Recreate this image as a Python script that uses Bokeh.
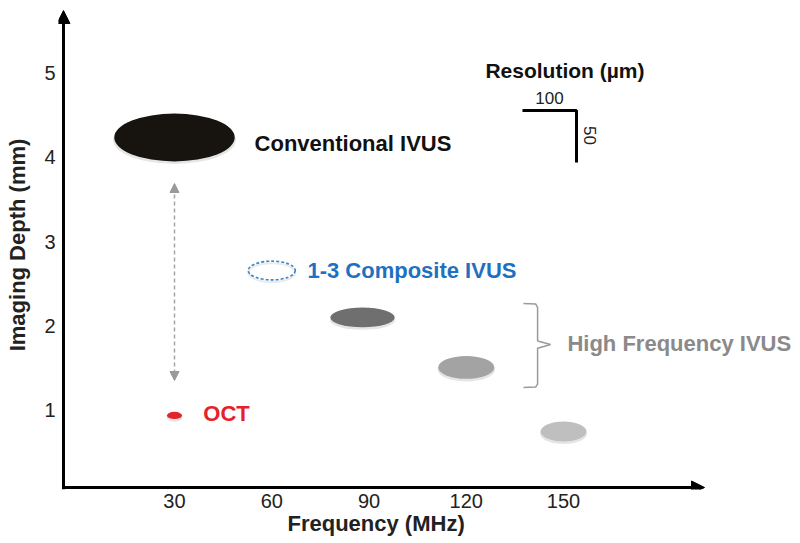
import math
from bokeh.plotting import figure
from bokeh.models import Range1d, FixedTicker, Arrow, NormalHead, Title
from bokeh.core.properties import value
from bokeh.embed import file_html
from bokeh.resources import INLINE

# ---------------- data ----------------
tick_freqs = [30, 60, 90, 120, 150]
tick_depths = [1, 2, 3, 4, 5]

names = ["Conventional IVUS", "OCT", "1-3 Composite IVUS", "HF IVUS 90", "HF IVUS 120", "HF IVUS 150"]
freq_mhz = [30, 30, 60, 88, 120, 150]
depth_mm = [4.235, 0.937, 2.657, 2.10, 1.507, 0.747]
lateral_um = [223, 28, 87, 119, 104, 85]   # ellipse width  (lateral resolution)
axial_um = [46, 7, 18, 19, 22, 19]         # ellipse height (axial resolution)
fill_colors = ["#17140f", "#e5232a", None, "#6f6f6f", "#a3a3a3", "#bfbfbf"]

label_texts = ["Conventional IVUS", "OCT", "1-3 Composite IVUS", "High Frequency IVUS"]
label_x = [54.7, 38.9, 71.0, 151.2]
label_y = [4.164, 0.961, 2.657, 1.791]
label_colors = ["#111111", "#e8202a", "#1f70c1", "#8a8a8a"]

scale_lateral_um = 100
scale_axial_um = 50

# ---------------- layout constants ----------------
LAT_TO_X = 0.1666    # MHz units per um (scale bar: 100 um)
AX_TO_Y = 0.01234    # mm units per um (scale bar: 50 um)
FONT = value("Liberation Sans")

p = figure(width=792, height=541, output_backend="svg", toolbar_location=None,
           x_range=Range1d(-5.78, 220.63), y_range=Range1d(0.059, 5.860),
           min_border_left=58, min_border_right=0, min_border_top=0, min_border_bottom=52)
p.grid.visible = False
p.outline_line_color = None

for ax in (p.xaxis, p.yaxis):
    ax.axis_line_color = None
    ax.major_tick_line_color = None
    ax.minor_tick_line_color = None
    ax.major_tick_out = 0
    ax.major_tick_in = 0
    ax.major_label_text_font = "Liberation Sans"
    ax.major_label_text_font_size = "20px"
    ax.major_label_text_color = "#222222"
p.xaxis.ticker = FixedTicker(ticks=tick_freqs)
p.yaxis.ticker = FixedTicker(ticks=tick_depths)
p.xaxis.major_label_standoff = 4
p.yaxis.major_label_standoff = 3
p.yaxis.axis_label = "Imaging Depth (mm)"
p.yaxis.axis_label_text_font = "Liberation Sans"
p.yaxis.axis_label_text_font_style = "bold"
p.yaxis.axis_label_text_font_size = "22px"
p.yaxis.axis_label_text_color = "#222222"
p.yaxis.axis_label_standoff = 11

# x axis title, placed below the tick labels
p.add_layout(Title(text="Frequency (MHz)", align="left", offset=229, standoff=-4,
                   text_font="Liberation Sans", text_font_style="bold",
                   text_font_size="22px", text_color="#222222"), "below")

# axis lines with arrowheads
ax_x = -4.24
ax_y = 0.083
p.add_layout(Arrow(end=NormalHead(size=13, fill_color="black", line_color="black"),
                   x_start=ax_x, y_start=0.059, x_end=ax_x, y_end=5.741,
                   line_width=3, line_color="black"))
p.add_layout(Arrow(end=NormalHead(size=13, fill_color="black", line_color="black"),
                   x_start=-4.7, y_start=ax_y, x_end=193.5, y_end=ax_y,
                   line_width=3, line_color="black"))

# dashed double arrow between conventional IVUS and OCT
p.add_layout(Arrow(start=NormalHead(size=9, fill_color="#9a9a9a", line_color="#9a9a9a"),
                   end=NormalHead(size=9, fill_color="#9a9a9a", line_color="#9a9a9a"),
                   x_start=30, y_start=1.352, x_end=30, y_end=3.689,
                   line_width=1.5, line_color="#a5a5a5", line_dash="4 3"))

# ellipses
filled = [i for i, c in enumerate(fill_colors) if c is not None]
fx = [freq_mhz[i] for i in filled]
fy = [depth_mm[i] for i in filled]
fw = [lateral_um[i] * LAT_TO_X for i in filled]
fh = [axial_um[i] * AX_TO_Y for i in filled]
fc = [fill_colors[i] for i in filled]
# soft shadow
p.ellipse(x=fx, y=[v - 0.03 for v in fy], width=[w * 1.02 for w in fw], height=fh,
          fill_color="#000000", fill_alpha=0.10, line_color=None)
p.ellipse(x=fx, y=fy, width=fw, height=fh, fill_color=fc, line_color=None)

ci = names.index("1-3 Composite IVUS")
p.ellipse(x=[freq_mhz[ci]], y=[depth_mm[ci] - 0.025], width=[lateral_um[ci] * LAT_TO_X],
          height=[axial_um[ci] * AX_TO_Y], fill_color=None, line_color="#000000",
          line_alpha=0.08, line_width=2)
p.ellipse(x=[freq_mhz[ci]], y=[depth_mm[ci]], width=[lateral_um[ci] * LAT_TO_X],
          height=[axial_um[ci] * AX_TO_Y], fill_color=None, line_color="#3a86c8",
          line_width=1.6, line_dash="3 2")

# labels
p.text(x=label_x, y=label_y, text=label_texts, text_color=label_colors,
       text_font=FONT, text_font_style="bold", text_font_size="22px",
       text_baseline="middle", text_align="left")

# bracket for high frequency IVUS
bx_l, bx_v, bx_m = 137.65, 142.0, 146.0
p.multi_line(xs=[[bx_l, 141.4, bx_v, bx_v, bx_m], [bx_m, bx_v, bx_v, 141.4, bx_l]],
             ys=[[2.266, 2.26, 2.22, 1.82, 1.779], [1.779, 1.735, 1.31, 1.274, 1.269]],
             line_color="#9a9a9a", line_width=1.5)

# resolution scale bar
cx, cy = 154.0, 4.555
p.line(x=[cx - scale_lateral_um * LAT_TO_X, cx, cx],
       y=[cy, cy, cy - scale_axial_um * AX_TO_Y],
       line_color="black", line_width=3)
p.text(x=[125.9], y=[5.03], text=["Resolution (\u00b5m)"], text_font=FONT,
       text_font_style="bold", text_font_size="21px", text_color="#111111",
       text_baseline="middle")
p.text(x=[cx - scale_lateral_um * LAT_TO_X / 2], y=[4.698], text=[str(scale_lateral_um)],
       text_font=FONT, text_font_size="17px", text_color="#222222",
       text_baseline="middle", text_align="center")
p.text(x=[158.3], y=[4.259], text=[str(scale_axial_um)], angle=-math.pi / 2,
       text_font=FONT, text_font_size="17px", text_color="#222222",
       text_baseline="middle", text_align="center")

open("out.html", "w").write(file_html(p, INLINE))
